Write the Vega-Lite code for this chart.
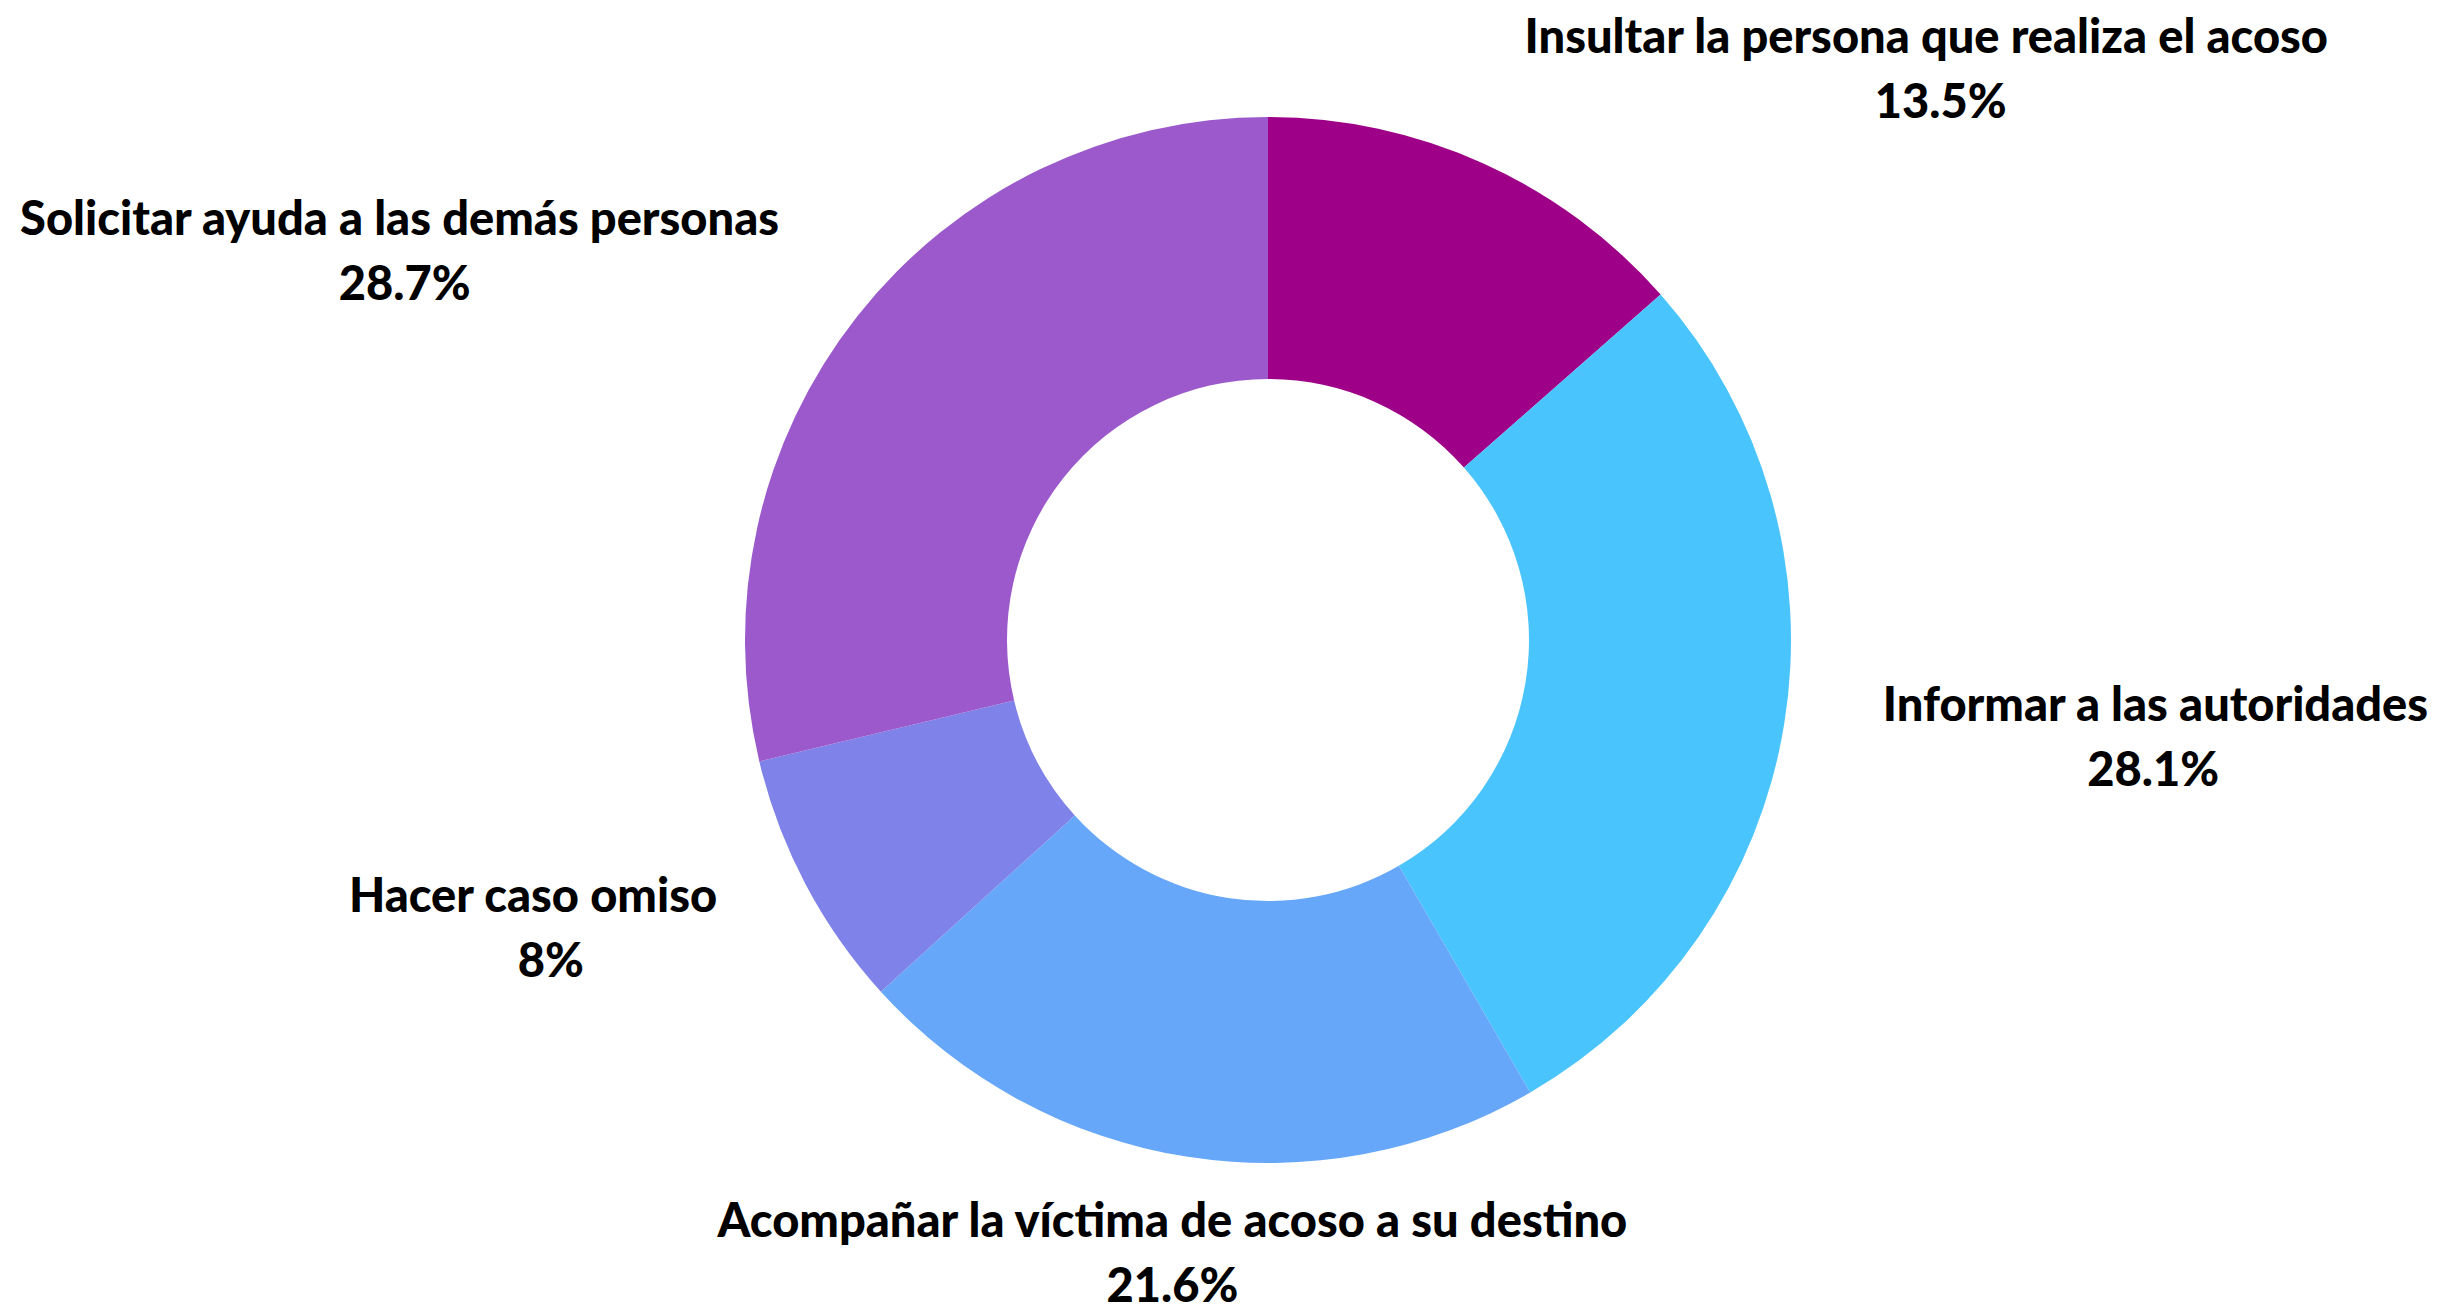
{
  "$schema": "https://vega.github.io/schema/vega-lite/v6.json",
  "width": 2344,
  "height": 1280,
  "autosize": "none",
  "padding": {"left": 96, "top": 0, "right": 0, "bottom": 25},
  "background": "white",
  "config": {"view": {"stroke": null}},
  "data": {
    "values": [
      {"orden": 1, "opcion": "Insultar la persona que realiza el acoso", "pct": 0.135},
      {"orden": 2, "opcion": "Informar a las autoridades", "pct": 0.281},
      {"orden": 3, "opcion": "Acompañar la víctima de acoso a su destino", "pct": 0.216},
      {"orden": 4, "opcion": "Hacer caso omiso", "pct": 0.08},
      {"orden": 5, "opcion": "Solicitar ayuda a las demás personas", "pct": 0.287}
    ]
  },
  "encoding": {
    "theta": {"field": "pct", "type": "quantitative", "stack": true},
    "order": {"field": "orden", "type": "quantitative"}
  },
  "layer": [
    {
      "mark": {"type": "arc", "innerRadius": 261, "outerRadius": 523},
      "encoding": {
        "color": {
          "field": "opcion",
          "type": "nominal",
          "legend": null,
          "scale": {
            "domain": [
              "Insultar la persona que realiza el acoso",
              "Informar a las autoridades",
              "Acompañar la víctima de acoso a su destino",
              "Hacer caso omiso",
              "Solicitar ayuda a las demás personas"
            ],
            "range": ["#9E0087", "#4AC4FD", "#66A7FA", "#7F82E8", "#9B59CB"]
          }
        }
      }
    },
    {
      "mark": {
        "type": "text",
        "radius": 623,
        "font": "Lato",
        "fontWeight": 900,
        "fontSize": 47,
        "baseline": "middle",
        "dy": -33,
        "color": "black",
        "align": {"expr": "sin(scale('theta', 0.5*datum.pct_start + 0.5*datum.pct_end)) > 0.3 ? 'left' : (sin(scale('theta', 0.5*datum.pct_start + 0.5*datum.pct_end)) < -0.3 ? 'right' : 'center')"}
      },
      "encoding": {
        "detail": {"field": "opcion", "type": "nominal"},
        "text": {"field": "opcion", "type": "nominal"}
      }
    },
    {
      "mark": {
        "type": "text",
        "radius": 623,
        "font": "Lato",
        "fontWeight": 900,
        "fontSize": 47,
        "baseline": "middle",
        "dy": 32,
        "color": "black",
        "align": "center",
        "dx": {"expr": "(sin(scale('theta', 0.5*datum.pct_start + 0.5*datum.pct_end)) > 0.3 ? 1 : (sin(scale('theta', 0.5*datum.pct_start + 0.5*datum.pct_end)) < -0.3 ? -1 : 0)) * length(datum.opcion) * 10.4"}
      },
      "encoding": {
        "detail": {"field": "opcion", "type": "nominal"},
        "text": {"field": "pct", "type": "quantitative", "format": ".1~%"}
      }
    }
  ]
}
